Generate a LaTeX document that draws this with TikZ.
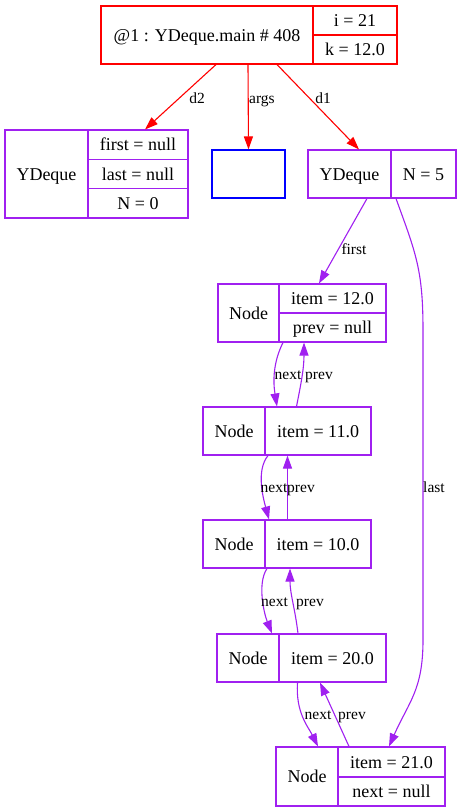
\documentclass[tikz,border=0pt]{standalone}
\usepackage{fontspec}
\setmainfont{Liberation Serif}
\usetikzlibrary{arrows.meta}
\definecolor{gvred}{RGB}{255,0,0}
\definecolor{gvpurple}{RGB}{160,32,240}
\definecolor{gvblue}{RGB}{0,0,255}
\tikzset{
  cell/.style={draw,line width=1.1pt,inner sep=0pt,text height=13pt,text depth=1pt,
    font=\fontsize{18}{21}\selectfont},
  elabel/.style={text=black,inner sep=0pt,text height=10pt,text depth=3pt,
    font=\fontsize{15.5}{18}\selectfont},
  ref/.style={line width=1.1pt,-{Triangle[length=13pt,width=9pt]}},
}
\begin{document}
\begin{tikzpicture}[x=1pt,y=-1pt] % pixel grid, y down
  \useasboundingbox (0,0) rectangle (461,812);
  % main frame
  \node[cell,draw=gvred,minimum width=212,minimum height=58] (m) at (207,35) {@1 : YDeque.main \# 408};
  \node[cell,draw=gvred,minimum width=84,minimum height=29] (mi) at (355,20.5) {i = 21};
  \node[cell,draw=gvred,minimum width=84,minimum height=29] (mk) at (355,49.5) {k = 12.0};
  % empty deque d2
  \node[cell,draw=gvpurple,minimum width=83,minimum height=88] (d2a) at (46.5,174) {YDeque};
  \node[cell,draw=gvpurple,minimum width=100,minimum height=29.33] (d2f) at (138,144.67) {first = null};
  \node[cell,draw=gvpurple,minimum width=100,minimum height=29.33] (d2l) at (138,174) {last = null};
  \node[cell,draw=gvpurple,minimum width=100,minimum height=29.33] (d2n) at (138,203.33) {N = 0};
  % args
  \node[cell,draw=gvblue,minimum width=73,minimum height=48] (args) at (248.5,174) {};
  % deque d1
  \node[cell,draw=gvpurple,minimum width=83,minimum height=48] (d1a) at (349.5,174) {YDeque};
  \node[cell,draw=gvpurple,minimum width=65,minimum height=48] (d1n) at (423.5,174) {N = 5};
  % linked nodes
  \node[cell,draw=gvpurple,minimum width=61,minimum height=58] (n1a) at (248.5,313) {Node};
  \node[cell,draw=gvpurple,minimum width=107,minimum height=29] (n1i) at (332.5,298.5) {item = 12.0};
  \node[cell,draw=gvpurple,minimum width=107,minimum height=29] (n1p) at (332.5,327.5) {prev = null};
  \node[cell,draw=gvpurple,minimum width=62,minimum height=48] (n2a) at (234,431) {Node};
  \node[cell,draw=gvpurple,minimum width=106,minimum height=48] (n2i) at (318,431) {item = 11.0};
  \node[cell,draw=gvpurple,minimum width=62,minimum height=48] (n3a) at (234,544) {Node};
  \node[cell,draw=gvpurple,minimum width=106,minimum height=48] (n3i) at (318,544) {item = 10.0};
  \node[cell,draw=gvpurple,minimum width=62,minimum height=48] (n4a) at (248,658) {Node};
  \node[cell,draw=gvpurple,minimum width=107,minimum height=48] (n4i) at (332.5,658) {item = 20.0};
  \node[cell,draw=gvpurple,minimum width=62,minimum height=59] (n5a) at (307,776.5) {Node};
  \node[cell,draw=gvpurple,minimum width=107,minimum height=30] (n5i) at (391.5,762) {item = 21.0};
  \node[cell,draw=gvpurple,minimum width=107,minimum height=29] (n5n) at (391.5,791.5) {next = null};
  % references from main
  \draw[ref,gvred] ([xshift=9]m.south) -- ([xshift=7]d2f.north) node[elabel] at (197,100) {d2};
  \draw[ref,gvred] ([xshift=41]m.south) -- (args.north) node[elabel] at (262,100) {args};
  \draw[ref,gvred] ([xshift=70]m.south) -- ([xshift=9.5]d1a.north) node[elabel] at (323,100) {d1};
  % first and last
  \draw[ref,gvpurple] ([xshift=17.5]d1a.south) -- ([xshift=-13.5]n1i.north) node[elabel] at (354,251) {first};
  \draw[ref,gvpurple] ([xshift=-27.5]d1n.south) .. controls +(20,55) and +(0,-60) .. (423,330)
    -- (423,640) .. controls +(0,50) and +(20,-45) .. ([xshift=-2.5]n5i.north)
    node[elabel] at (434,489) {last};
  % next / prev
  \draw[ref,gvpurple] ([xshift=-49.5]n1p.south) .. controls +(-10,20) and +(-4,-25) .. ([xshift=-41]n2i.north)
    node[elabel] at (288,376) {next};
  \draw[ref,gvpurple] ([xshift=-21.5]n2i.north) .. controls +(5,-25) and +(0,25) .. ([xshift=-28.5]n1p.south)
    node[elabel] at (319,376) {prev};
  \draw[ref,gvpurple] ([xshift=-50]n2i.south) .. controls +(-12,15) and +(-6,-22) .. ([xshift=-49]n3i.north)
    node[elabel] at (274,489) {next};
  \draw[ref,gvpurple] ([xshift=-30.5]n3i.north) -- ([xshift=-30.5]n2i.south)
    node[elabel] at (301,489) {prev};
  \draw[ref,gvpurple] ([xshift=-51]n3i.south) .. controls +(-10,15) and +(-8,-20) .. ([xshift=24]n4a.north)
    node[elabel] at (274.5,603) {next};
  \draw[ref,gvpurple] ([xshift=-34.5]n4i.north) .. controls +(-3,-25) and +(0,25) .. ([xshift=-28]n3i.south)
    node[elabel] at (310,603) {prev};
  \draw[ref,gvpurple] ([xshift=-35]n4i.south) .. controls +(-2,30) and +(-10,-20) .. ([xshift=11]n5a.north)
    node[elabel] at (318,716) {next};
  \draw[ref,gvpurple] ([xshift=-42.5]n5i.north) -- ([xshift=-12.5]n4i.south)
    node[elabel] at (352,716) {prev};
\end{tikzpicture}
\end{document}
